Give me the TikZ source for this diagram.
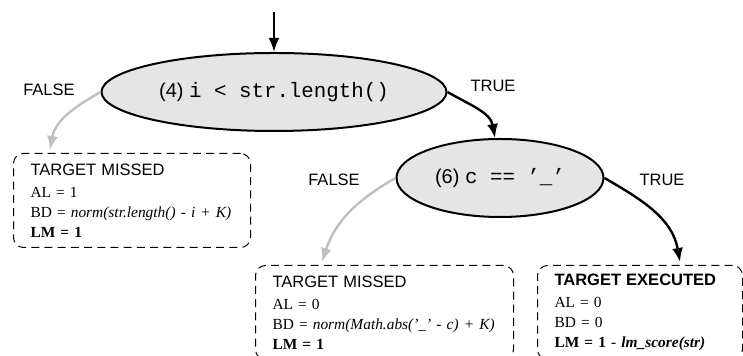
\documentclass[tikz,border=0pt]{standalone}
\usepackage{fontspec}
\setmainfont{Liberation Serif}
\setsansfont{Liberation Sans}
\setmonofont{Liberation Mono}
\usetikzlibrary{arrows.meta,shapes.geometric}

\begin{document}
\begin{tikzpicture}[x=.5pt,y=-.5pt,line width=.5pt,
  cond/.style={ellipse,draw,line width=1pt,fill=black!10,inner sep=0pt,minimum height=39pt,font=\sffamily\fontsize{10}{12}\selectfont},
  result/.style={draw,dash pattern=on 4pt off 2.6pt,rounded corners=5pt,anchor=north west,inner xsep=8.5pt,inner ysep=4pt,minimum height=47pt,align=left,font=\fontsize{7.7}{10}\selectfont},
  lbl/.style={inner sep=0pt,font=\sffamily\fontsize{8.25}{10}\selectfont},
  yes/.style={-{Latex[length=7pt,width=5.5pt]},line width=1.2pt},
  no/.style={-{Latex[length=7pt,width=5.5pt]},line width=1.2pt,draw=black!25}]
\path[use as bounding box] (0,0) rectangle (743,356);
\clip (0,0) rectangle (743,356);
\coordinate (entry) at (274,12);
\node[cond,minimum width=172.5pt] (e1) at (274,92) {(4) \texttt{\fontsize{10.4}{12}\selectfont i < str.length()}};
\node[cond,minimum width=103.5pt] (e2) at (500,178) {(6) \texttt{\fontsize{10.4}{12}\selectfont c == ’\_’}};
\node[result,text width=101.5pt] (missA) at (13,153) {{\sffamily\fontsize{8.25}{10}\selectfont TARGET MISSED}\\[1pt]
  AL = 1\\
  BD = \textit{norm(str.length() - i + K)}\\
  \textbf{LM = 1}};
\node[result,text width=112pt] (missB) at (255,265) {{\sffamily\fontsize{8.25}{10}\selectfont TARGET MISSED}\\[1pt]
  AL = 0\\
  BD = \textit{norm(Math.abs('\_' - c) + K)}\\
  \textbf{LM = 1}};
\node[result,text width=85.5pt] (hit) at (537,265) {{\sffamily\bfseries\fontsize{8.25}{10}\selectfont TARGET EXECUTED}\\[1pt]
  AL = 0\\
  BD = 0\\
  \textbf{LM = 1 - \textit{lm\_score(str)}}};
\node[lbl] (f1) at (49,90) {FALSE};
\node[lbl] (t1) at (493,86) {TRUE};
\node[lbl] (f2) at (334,180) {FALSE};
\node[lbl] (t2) at (662,180) {TRUE};
\draw[yes] (entry) -- (e1);
\draw[no] (e1.west) to[out=210,in=80] ([xshift=18.5pt,yshift=1.5pt]missA.north west);
\draw[yes] (e1.east) to[out=-30,in=100] ([xshift=-2.5pt]e2.north);
\draw[no] (e2.west) to[out=210,in=72] ([xshift=33.5pt,yshift=1.5pt]missB.north west);
\draw[yes] (e2.east) to[out=-30,in=100] ([xshift=71.5pt,yshift=1.5pt]hit.north west);
\end{tikzpicture}
\end{document}
